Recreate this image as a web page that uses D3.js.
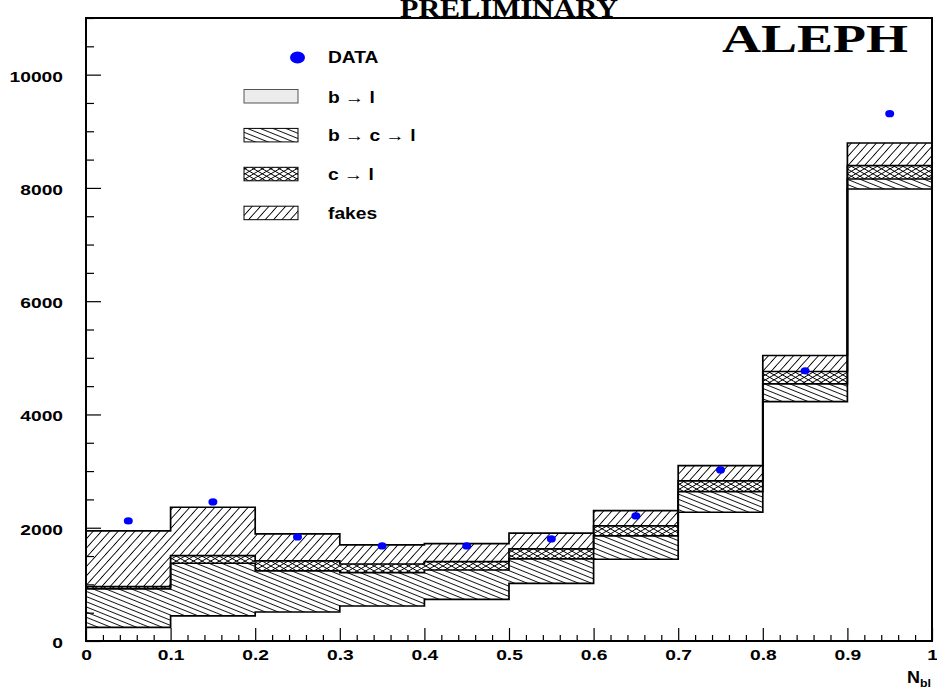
<!DOCTYPE html>
<html>
<head>
<meta charset="utf-8">
<script src="https://cdn.jsdelivr.net/npm/d3@7"></script>
<style>
  html, body { margin: 0; padding: 0; background: #fff; }
  svg { display: block; }
</style>
</head>
<body>
<svg id="chart" width="937" height="695" font-family="Liberation Sans, Arial, sans-serif" font-weight="bold"></svg>
<script>
// ---------- data ----------
const binLow   = [0.0, 0.1, 0.2, 0.3, 0.4, 0.5, 0.6, 0.7, 0.8, 0.9];
const binWidth = 0.1;
const bToL     = [242, 442, 512, 618, 736, 1019, 1443, 2273, 4228, 7981];
const bToCToL  = [677, 931, 725, 589, 518, 430, 412, 365, 313, 176];
const cToL     = [40, 134, 176, 153, 147, 176, 177, 189, 217, 235];
const fakes    = [984, 855, 477, 336, 318, 278, 270, 270, 283, 401];
const dataPts  = [2120, 2456, 1837, 1678, 1678, 1802, 2208, 3021, 4770, 9311];
const yTicks   = [0, 2000, 4000, 6000, 8000, 10000];
const xTicks   = [0, 0.1, 0.2, 0.3, 0.4, 0.5, 0.6, 0.7, 0.8, 0.9, 1];
const legendLabels = ["DATA", "b → l", "b → c → l", "c → l", "fakes"];

// ---------- setup ----------
const svg = d3.select("#chart");
const X0 = 86, X1 = 932, Y0 = 641, Y1 = 18;
const x = d3.scaleLinear().domain([0, 1]).range([X0, X1]);
const y = d3.scaleLinear().domain([0, 11000]).range([Y0, Y1]);
const STRETCH = 1.24;
function stretch(sel, f) {
  sel.each(function () {
    const len = this.getComputedTextLength();
    d3.select(this).attr("textLength", len * (f || STRETCH)).attr("lengthAdjust", "spacingAndGlyphs");
  });
}

// ---------- patterns ----------
const defs = svg.append("defs");
function linePattern(id, spacing, angle) {
  const p = defs.append("pattern").attr("id", id)
    .attr("patternUnits", "userSpaceOnUse")
    .attr("width", 20).attr("height", spacing)
    .attr("patternTransform", `rotate(${angle})`);
  p.append("line").attr("x1", 0).attr("x2", 20).attr("y1", spacing / 2).attr("y2", spacing / 2)
    .attr("stroke", "#000").attr("stroke-width", 0.9);
}
linePattern("pFakes", 6.2, -48);
linePattern("pBCL", 4.8, 22);
linePattern("pCL1", 4.3, 30);
linePattern("pCL2", 4.3, -30);

// ---------- stacking ----------
const comps = [bToL, bToCToL, cToL, fakes];
const cum = [];
comps.forEach((c, k) => {
  cum.push(c.map((v, i) => v + (k ? cum[k - 1][i] : 0)));
});
const fills = [null, ["pBCL"], ["pCL1", "pCL2"], ["pFakes"]];

const area = d3.area().curve(d3.curveStepAfter)
  .x(d => x(d.x)).y0(d => y(d.lo)).y1(d => y(d.hi));
const plot = svg.append("g");
for (let k = 1; k < comps.length; k++) {
  const pts = binLow.map((b, i) => ({ x: b, lo: cum[k - 1][i], hi: cum[k][i] }));
  pts.push({ x: 1, lo: cum[k - 1][9], hi: cum[k][9] });
  fills[k].forEach(pid => {
    plot.append("path").attr("d", area(pts)).attr("fill", `url(#${pid})`).attr("stroke", "none");
  });
}
// outlines of each cumulative level as step histograms
const stepLine = d3.line().x(d => x(d[0])).y(d => y(d[1]));
cum.forEach(level => {
  const pts = [[0, 0]];
  binLow.forEach((b, i) => { pts.push([b, level[i]]); pts.push([b + binWidth, level[i]]); });
  pts.push([1, 0]);
  plot.append("path").attr("d", stepLine(pts)).attr("fill", "none")
    .attr("stroke", "#000").attr("stroke-width", 1.7);
});

// data points
svg.append("g").selectAll("ellipse").data(dataPts).join("ellipse")
  .attr("cx", (d, i) => x(binLow[i] + binWidth / 2)).attr("cy", d => y(d))
  .attr("rx", 4.5).attr("ry", 3.6).attr("fill", "#0000ff");

// ---------- axes ----------
const xMinor = d3.range(0, 51).map(i => i / 50).filter(v => Math.round(v * 50) % 5 !== 0);
svg.append("g").attr("transform", `translate(0,${Y0})`)
  .call(d3.axisBottom(x).tickValues(xMinor).tickSize(-6).tickFormat(""))
  .call(g => g.select(".domain").remove())
  .call(g => g.selectAll("line").attr("stroke-width", 1.2));
const xAxis = svg.append("g").attr("transform", `translate(0,${Y0})`)
  .call(d3.axisBottom(x).tickValues(xTicks).tickSize(-13).tickPadding(8)
    .tickFormat(d => d === 0 ? "0" : d === 1 ? "1" : d3.format(".1f")(d)))
  .call(g => g.select(".domain").remove())
  .call(g => g.selectAll("line").attr("stroke-width", 1.2));
xAxis.attr("font-family", null).attr("font-size", null);
xAxis.selectAll("text").attr("font-size", 15.5).attr("fill", "#000");
stretch(xAxis.selectAll("text"));

const yMinor = d3.range(0, 11001, 500).filter(v => v % 2000 !== 0);
svg.append("g").attr("transform", `translate(${X0},0)`)
  .call(d3.axisLeft(y).tickValues(yMinor).tickSize(-8).tickFormat(""))
  .call(g => g.select(".domain").remove())
  .call(g => g.selectAll("line").attr("stroke-width", 1.2));
const yAxis = svg.append("g").attr("transform", `translate(${X0},0)`)
  .call(d3.axisLeft(y).tickValues(yTicks).tickSize(-15).tickPadding(23).tickFormat(d3.format("d")))
  .call(g => g.select(".domain").remove())
  .call(g => g.selectAll("line").attr("stroke-width", 1.2));
yAxis.attr("font-family", null).attr("font-size", null);
yAxis.selectAll("text").attr("font-size", 15.5).attr("fill", "#000").attr("dy", "0.42em");
stretch(yAxis.selectAll("text"));

// frame
svg.append("rect").attr("x", X0).attr("y", Y1).attr("width", X1 - X0).attr("height", Y0 - Y1)
  .attr("fill", "none").attr("stroke", "#000").attr("stroke-width", 2);

// axis title
const xt = svg.append("text").attr("x", 907).attr("y", 683).attr("font-size", 16);
xt.append("tspan").text("N");
xt.append("tspan").attr("font-size", 11).attr("dy", 4).text("bl");
stretch(xt, 1.12);

// ---------- titles ----------
const pre = svg.append("text").attr("x", 509).attr("y", 17).attr("text-anchor", "middle")
  .attr("font-family", "Liberation Serif, Times New Roman, serif").attr("font-size", 26)
  .text("PRELIMINARY");
pre.attr("textLength", 218).attr("lengthAdjust", "spacingAndGlyphs");
const aleph = svg.append("text").attr("x", 815).attr("y", 52).attr("text-anchor", "middle")
  .attr("font-family", "Liberation Serif, Times New Roman, serif").attr("font-size", 40)
  .text("ALEPH");
aleph.attr("textLength", 186).attr("lengthAdjust", "spacingAndGlyphs");

// ---------- legend ----------
const lg = svg.append("g");
lg.append("ellipse").attr("cx", 297.5).attr("cy", 57.5).attr("rx", 7.5).attr("ry", 6).attr("fill", "#0000ff");
const boxFills = [null, ["pBCL"], ["pCL1", "pCL2"], ["pFakes"]];
for (let k = 0; k < 4; k++) {
  const top = 89.5 + k * 38.9;
  if (k === 0) {
    lg.append("rect").attr("x", 244).attr("y", top).attr("width", 54).attr("height", 13.5)
      .attr("fill", "#ececec").attr("stroke", "#555").attr("stroke-width", 1);
  } else {
    boxFills[k].forEach(pid => {
      lg.append("rect").attr("x", 244).attr("y", top).attr("width", 54).attr("height", 13.5)
        .attr("fill", `url(#${pid})`).attr("stroke", "none");
    });
    lg.append("rect").attr("x", 244).attr("y", top).attr("width", 54).attr("height", 13.5)
      .attr("fill", "none").attr("stroke", "#000").attr("stroke-width", 1);
  }
}
legendLabels.forEach((lab, i) => {
  const yy = i === 0 ? 63 : 89.5 + (i - 1) * 38.9 + 13;
  const t = lg.append("text").attr("x", 328).attr("y", yy).attr("font-size", 16);
  const parts = lab.split("→");
  parts.forEach((p, j) => {
    t.append("tspan").text(p);
    if (j < parts.length - 1) t.append("tspan").attr("font-weight", "normal").text("→");
  });
  stretch(t, 1.2);
});
</script>
</body>
</html>
